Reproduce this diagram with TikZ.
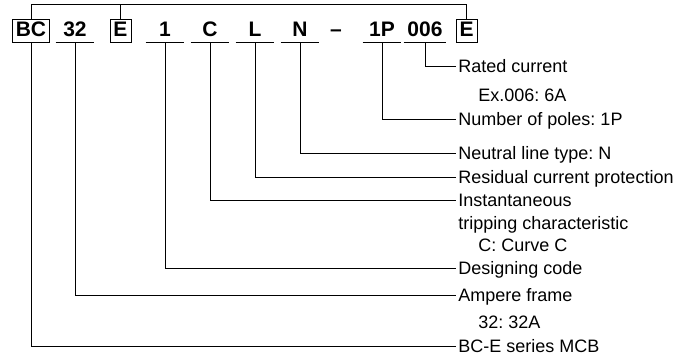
\documentclass[tikz,border=0pt]{standalone}
\usepackage{fontspec}
\setmainfont{Liberation Sans}
\frenchspacing
\begin{document}
\begin{tikzpicture}[x=1pt,y=-1pt,line width=0.9pt,line cap=butt,line join=miter,
    font=\fontsize{18}{21}\selectfont]
  \tikzset{code/.style={font=\fontsize{21}{24}\selectfont\bfseries,inner xsep=3.5pt,
      inner ysep=0.5pt,text height=17pt,text depth=5pt,anchor=base},
    codebox/.style={code,draw},
    codeline/.style={code,minimum width=38pt},
    lbl/.style={anchor=west,inner sep=2pt,text height=12.8pt,text depth=0pt}}
  \useasboundingbox (0,0) rectangle (675,358);
  % model code
  \node[codebox] (bc) at (31,37) {BC};
  \node[codeline] (c32) at (75,37) {32};
  \node[codebox] (e1) at (120.5,37) {E};
  \node[codeline] (c1) at (165,37) {1};
  \node[codeline] (cc) at (210,37) {C};
  \node[codeline] (cl) at (255,37) {L};
  \node[codeline] (cn) at (300,37) {N};
  \node[code] (dash) at (336,37) {--};
  \node[codeline] (c1p) at (382,37) {1P};
  \node[codeline] (c006) at (425,37) {006};
  \node[codebox] (e2) at (466.5,37) {E};
  \foreach \n in {c32,c1,cc,cl,cn,c1p,c006}
    \draw (\n.south west) -- (\n.south east);
  % bracket over the series name
  \coordinate (top) at (0,4.5);
  \draw (bc.north) |- (top -| e2.north) -- (e2.north);
  \draw (e1.north) -- (e1.north |- top);
  % meanings
  \node[lbl] (rated) at (456,66) {Rated current};
  \node[lbl] (ratedex) at (476,95) {Ex.006: 6A};
  \node[lbl] (poles) at (456,119) {Number of poles: 1P};
  \node[lbl] (neutral) at (456,153) {Neutral line type: N};
  \node[lbl] (residual) at (456,177) {Residual current protection};
  \node[lbl] (inst) at (456,200) {Instantaneous};
  \node[lbl] (instb) at (456,223) {tripping characteristic};
  \node[lbl] (instc) at (476,245) {C: Curve C};
  \node[lbl] (design) at (456,268) {Designing code};
  \node[lbl] (ampere) at (456,295) {Ampere frame};
  \node[lbl] (amperex) at (476,322) {32: 32A};
  \node[lbl] (series) at (456,346) {BC-E series MCB};
  %--------- leaders
  \draw (c006.south) |- (rated.west);
  \draw (c1p.south) |- (poles.west);
  \draw (cn.south) |- (neutral.west);
  \draw (cl.south) |- (residual.west);
  \draw (cc.south) |- (inst.west);
  \draw (c1.south) |- (design.west);
  \draw (c32.south) |- (ampere.west);
  \draw (bc.south) |- (series.west);
\end{tikzpicture}
\end{document}
